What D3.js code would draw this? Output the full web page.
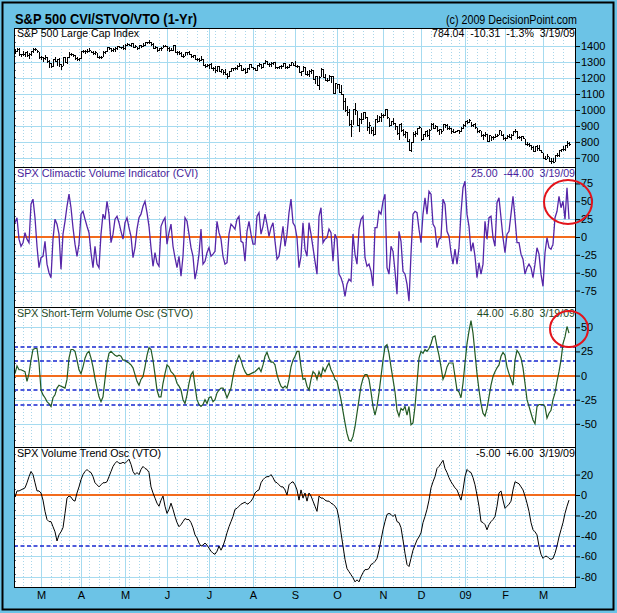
<!DOCTYPE html>
<html><head><meta charset="utf-8">
<script src="https://cdn.jsdelivr.net/npm/d3@7"></script>
<style>
body{margin:0;background:#fff}
svg{display:block}
text{font-family:"Liberation Sans",Arial,sans-serif;white-space:pre}
</style></head>
<body><svg id="c" width="617" height="613"></svg>
<script>
// ---------- DATA ----------
const startDate="2008-02-12", endDate="2009-03-19";
const holidays=["2008-02-18","2008-03-21","2008-05-26","2008-07-04","2008-09-01","2008-11-27","2008-12-25","2009-01-01","2009-01-19","2009-02-16"];
const monthLabels=["M","A","M","J","J","A","S","O","N","D","09","F","M"];

const spxClose=[1367,1382,1349,1350,1348,1360,1342,1353,1371,1381,1380,1367,1331,
1331,1326,1333,1304,1294,1273,1321,1308,1316,1289,1277,1330,1299,1330,1349,1352,1342,1325,1316,1323,
1371,1368,1370,1370,1373,1365,1355,1361,1333,1329,1334,1365,1366,1391,1388,1376,1380,1389,1398,1396,1391,1386,
1409,1414,1407,1419,1393,1398,1389,1404,1403,1408,1423,1425,1427,1414,1390,1394,1375,1385,1390,1398,1400,
1385,1378,1377,1405,1361,1361,1358,1335,1339,1360,1361,1351,1338,1342,1318,1318,1314,1321,1283,1278,1280,
1285,1262,1262,1253,1273,1245,1254,1240,1228,1215,1245,1260,1261,1261,1278,1282,1253,1257,1235,1264,1285,1267,
1261,1249,1284,1290,1267,1296,1305,1290,1286,1293,1298,1267,1266,1275,1277,1292,1266,1271,1281,1300,1283,
1277,1275,1236,1242,1267,1225,1228,1245,1252,1193,1214,1156,1207,1255,1208,1188,1186,1210,1213,1106,1166,
1161,1115,1099,1057,997,985,910,899,1004,998,908,946,941,985,956,896,909,877,848,941,930,954,969,
966,1006,953,905,931,920,898,853,912,873,851,859,807,752,800,852,858,887,896,
816,848,870,845,876,910,889,899,873,880,869,913,904,885,888,871,863,869,873,869,890,903,
932,927,935,907,910,891,871,872,843,844,851,806,841,828,832,837,846,874,845,826,
825,838,832,845,869,870,828,833,835,827,790,789,779,770,743,773,765,752,735,
700,696,713,683,683,677,720,721,751,757,753,778,794.35,784.04];
const spxHigh=[1382,1385,1385,1351,1367,1363,1367,1354,1372,1388,1388,1378,1364,
1335,1332,1344,1333,1310,1296,1321,1333,1322,1326,1287,1330,1331,1330,1360,1358,1352,1346,1334,1328,
1371,1378,1375,1381,1386,1372,1368,1367,1359,1336,1337,1367,1368,1395,1391,1389,1387,1397,1399,1402,1397,1404,
1410,1422,1415,1421,1419,1404,1395,1404,1407,1420,1424,1426,1440,1427,1418,1398,1394,1387,1392,1405,1406,
1400,1396,1386,1405,1404,1370,1366,1361,1353,1361,1365,1370,1350,1347,1342,1323,1323,1336,1321,1289,1290,
1285,1292,1272,1274,1274,1277,1257,1253,1255,1234,1246,1262,1263,1267,1281,1291,1283,1263,1260,1264,1285,1285,
1270,1261,1284,1292,1290,1297,1313,1304,1294,1300,1301,1300,1268,1277,1279,1294,1292,1276,1287,1300,1297,
1304,1280,1274,1243,1275,1268,1241,1249,1255,1250,1214,1214,1211,1265,1255,1227,1197,1221,1215,1210,1170,
1165,1162,1154,1097,1072,1022,1006,936,1006,1045,995,948,984,985,985,955,923,896,896,941,970,964,984,
975,1007,1005,952,934,951,920,897,913,916,881,866,864,820,801,865,868,887,897,
889,849,871,875,879,918,916,907,899,883,881,914,912,912,898,887,880,870,874,874,891,911,
934,936,943,927,911,918,890,877,871,851,864,850,841,838,838,852,850,877,868,851,
831,842,851,851,871,878,869,839,836,839,819,797,796,778,777,775,781,780,751,
729,712,725,708,700,699,720,730,752,758,774,778,803,797];
const spxLow=[1359,1367,1346,1338,1345,1337,1338,1327,1346,1364,1373,1362,1325,
1320,1304,1320,1303,1271,1272,1274,1307,1282,1276,1257,1283,1299,1295,1330,1341,1336,1322,1312,1312,
1323,1361,1359,1362,1369,1360,1348,1350,1331,1324,1324,1335,1358,1366,1380,1371,1372,1371,1383,1393,1386,1381,
1383,1406,1404,1398,1391,1391,1384,1385,1397,1403,1405,1418,1421,1406,1388,1388,1372,1373,1378,1391,1398,
1376,1370,1373,1377,1360,1351,1351,1335,1331,1341,1349,1350,1333,1329,1317,1313,1309,1314,1283,1272,1274,
1260,1261,1253,1240,1244,1244,1237,1225,1227,1200,1211,1245,1252,1256,1254,1276,1252,1251,1234,1235,1259,1266,
1254,1247,1250,1276,1264,1267,1292,1285,1275,1277,1290,1265,1262,1261,1262,1278,1264,1263,1270,1282,1282,
1273,1266,1236,1217,1244,1224,1221,1212,1233,1192,1170,1155,1133,1214,1207,1187,1180,1187,1178,1106,1107,
1140,1114,1098,1007,996,970,909,839,912,972,903,866,918,941,952,877,858,853,845,848,922,930,928,
958,971,952,899,907,911,882,852,818,870,846,830,806,747,741,801,834,847,886,
815,817,837,835,818,883,884,888,871,852,858,872,894,878,879,857,860,861,866,857,870,888,
899,919,927,902,897,889,864,862,836,818,838,804,804,815,816,828,836,847,844,821,
813,822,829,819,845,862,822,825,809,825,789,780,777,754,742,744,752,752,734,
699,696,697,678,667,673,683,713,714,743,751,749,766,780];

const cvi=[20,27,-3,-13,-8,6,-3,-8,46,53,
27,-13,-43,-29,-27,-6,-38,-50,-57,-3,
25,18,4,-45,4,22,43,60,41,13,
-10,-27,-10,32,36,25,15,6,-22,-43,
-13,-38,-43,4,32,25,50,32,-8,4,
25,29,20,8,-3,20,27,13,1,-29,
-15,11,27,32,43,50,34,15,-15,-41,
-22,-36,-41,15,22,27,-10,6,18,-13,
-29,-43,-27,-55,-27,27,22,4,-15,-27,
-59,-45,-24,11,-38,-34,-22,-15,-27,-24,
-20,22,6,-3,-27,-38,-36,4,18,15,
11,25,29,-6,-8,-34,8,22,4,-10,
-10,29,34,4,15,32,18,1,13,20,
-6,-31,-27,-6,15,-13,4,34,53,20,
15,-1,-43,-27,20,-17,-27,20,4,-15,
-34,-52,29,41,-8,-3,-1,11,6,-34,
4,-3,-52,-57,-66,-83,-66,-59,-62,4,
-24,-38,11,25,29,-29,-41,-38,-48,-69,
13,13,36,32,50,60,-43,-52,-13,-20,
-48,-80,8,-6,-48,-52,-66,-90,-24,32,
36,34,11,-8,32,55,32,64,60,18,
13,-15,-3,-1,53,46,8,1,-22,-38,
-17,-38,-15,34,69,78,32,15,-20,-8,
-27,-57,-36,-52,-38,22,-3,27,29,-1,
-13,48,55,27,-1,-22,4,8,32,57,
27,-8,-8,-24,-31,-52,-43,-38,-43,-57,
-38,-15,-24,-52,-69,-22,-1,-15,-17,-10,
27,36,57,41,50,25,69,25];

const stvo=[2,10,6,6,5,4,-6,2,16,27,
28,28,13,-15,-20,-23,-27,-29,-32,-23,
-20,-13,-10,-11,-12,-13,-4,18,27,27,
25,16,6,2,9,18,23,25,18,9,
-3,-13,-22,-27,-22,-4,13,23,25,23,
21,20,21,20,16,16,14,13,11,8,
1,-6,-10,-4,-1,9,21,29,27,16,
1,-15,-22,-22,-8,2,11,9,4,2,
-1,-8,-11,-15,-25,-29,-20,-8,1,4,
-11,-25,-30,-32,-30,-25,-29,-23,-22,-27,
-25,-18,-15,-13,-13,-17,-23,-18,-13,-1,
9,16,21,16,9,4,1,1,2,3,
4,6,8,4,11,20,24,18,14,14,
11,1,-6,-11,-13,-11,-13,-4,9,16,
20,25,25,9,-4,-3,-11,-15,-4,4,
2,-4,4,-1,8,4,9,13,6,2,
-4,-6,-15,-25,-37,-49,-60,-67,-68,-63,
-53,-39,-25,-11,-3,1,1,-4,-17,-32,
-41,-32,-18,-1,16,30,32,23,9,-4,
-17,-36,-42,-34,-36,-32,-41,-32,-51,-49,
-32,-8,18,25,23,27,25,28,33,40,
41,30,21,9,-4,1,9,13,13,13,
-1,-15,-17,-23,-8,13,33,46,57,44,
23,2,-15,-29,-39,-42,-34,-22,-10,-1,
4,8,11,20,24,21,9,2,-4,-10,
16,26,23,18,8,-8,-25,-32,-39,-46,
-50,-32,-30,-30,-30,-32,-44,-39,-36,-25,
-18,-6,4,16,33,40,50.8,44];

const vto=[-2,4,4,5,6,7,12,18,23,20,
12,4,4,2,-5,-16,-24,-26,-26,-31,
-36,-45,-39,-36,-32,-18,-3,-1,-2,-5,
-6,2,8,15,20,23,25,23,22,18,
12,10,8,10,12,12,13,18,23,28,
31,33,31,31,32,31,33,35,30,23,
20,22,20,25,28,26,25,22,8,2,
-3,-8,-11,-5,-1,-11,-18,-14,-8,-14,
-21,-27,-31,-29,-26,-23,-24,-24,-27,-32,
-39,-42,-47,-50,-49,-47,-49,-52,-55,-57,
-58,-55,-50,-54,-50,-44,-37,-31,-26,-21,
-14,-13,-11,-9,-8,-7,-9,-8,-6,-3,
2,4,5,12,15,17,18,18,20,17,
13,12,10,8,8,5,0,10,12,13,
10,5,-5,5,-3,2,-6,2,-1,-6,
-11,-16,-1,-3,-3,-5,-6,-6,-8,-9,
-11,-14,-23,-37,-50,-63,-72,-75,-78,-81,
-85,-83,-85,-80,-76,-73,-73,-72,-68,-67,
-65,-62,-54,-44,-34,-26,-19,-18,-19,-21,
-19,-26,-27,-32,-44,-57,-68,-70,-62,-54,
-49,-44,-41,-37,-27,-21,-14,-5,7,13,
18,26,28,31,34,26,22,17,13,10,
7,5,0,-5,5,18,25,23,22,17,
10,0,-11,-26,-27,-29,-34,-29,-26,-24,
-21,-11,2,4,-5,-13,-11,-9,-6,5,
13,12,11,8,5,-1,-8,-16,-27,-34,
-36,-39,-50,-58,-62,-60,-60,-62,-63,-62,
-57,-50,-41,-34,-27,-18,-11,-5];

const spxTicks=[700,800,900,1000,1100,1200,1300,1400];
const cviTicks=[-75,-50,-25,0,25,50,75];
const stvoTicks=[-50,-25,0,25,50];
const vtoTicks=[-80,-60,-40,-20,0,20];
const stvoBands=[-30,-15,15,30];
const vtoBands=[-50];

// ---------- LAYOUT ----------
const svg=d3.select("#c");
const L=14,R=576,T=28,B=588;
const BLUE="#6cc3e6",GRID="#a6dbf0",DOT="#a9d6ea";
const parse=d3.timeParse("%Y-%m-%d"),fmt=d3.timeFormat("%Y-%m-%d");
const hol=new Set(holidays);
const dates=d3.timeDay.range(parse(startDate),d3.timeDay.offset(parse(endDate),1))
  .filter(d=>d.getDay()%6!==0&&!hol.has(fmt(d)));

const x=d3.scaleLinear().domain([-0.5,280.5]).range([L,R]);
const px=i=>Math.round(x(i))+0.5;

svg.append("rect").attr("width",617).attr("height",613).attr("fill",BLUE);
svg.append("rect").attr("x",2.5).attr("y",2.5).attr("width",611).attr("height",607)
  .attr("fill","none").attr("stroke","#000").attr("stroke-width",2);
svg.append("rect").attr("x",L).attr("y",T).attr("width",R-L).attr("height",B-T).attr("fill","#fff");

const panels=[
 {top:28,bot:167,dom:[643,1513],ticks:spxTicks},
 {top:167,bot:307,dom:[-98,98],ticks:cviTicks},
 {top:307,bot:447,dom:[-74,71],ticks:stvoTicks},
 {top:447,bot:588,dom:[-91,47],ticks:vtoTicks}
];
panels.forEach(p=>{p.y=d3.scaleLinear().domain(p.dom).range([p.bot,p.top]);});

const monthIdx=[],weekIdx=[];
for(let i=1;i<dates.length;i++){
  if(dates[i].getMonth()!==dates[i-1].getMonth()) monthIdx.push(i);
  else if(+d3.timeMonday.floor(dates[i])!==+d3.timeMonday.floor(dates[i-1])) weekIdx.push(i);
}

const g=svg.append("g");
panels.forEach(p=>{
  const gg=g.append("g").attr("shape-rendering","crispEdges");
  gg.selectAll(".w").data(weekIdx).join("line")
    .attr("x1",px).attr("x2",px).attr("y1",p.top).attr("y2",p.bot)
    .attr("stroke",DOT).attr("stroke-dasharray","1,2");
  gg.selectAll(".m").data(monthIdx).join("line")
    .attr("x1",px).attr("x2",px).attr("y1",p.top).attr("y2",p.bot)
    .attr("stroke",GRID);
  gg.selectAll(".h").data(p.ticks).join("line")
    .attr("x1",L).attr("x2",R).attr("y1",d=>Math.round(p.y(d))+0.5).attr("y2",d=>Math.round(p.y(d))+0.5)
    .attr("stroke",GRID);
  // small inner ticks along left edge
  gg.selectAll(".lt").data(d3.range(1,20)).join("line")
    .attr("x1",L).attr("x2",L+2)
    .attr("y1",k=>Math.round(p.top+(p.bot-p.top)*k/20)+0.5).attr("y2",k=>Math.round(p.top+(p.bot-p.top)*k/20)+0.5)
    .attr("stroke","#5a6a80");
  // right axis
  const ax=d3.axisRight(p.y).tickValues(p.ticks).tickSize(4).tickPadding(1)
    .tickFormat(d=>String(d));
  const a=svg.append("g").attr("transform",`translate(${R},0)`).call(ax);
  a.select(".domain").remove();
  a.selectAll("line").attr("stroke","#000");
  a.selectAll("text").attr("font-size",11).attr("fill","#000")
    .attr("font-family",'"Liberation Sans",Arial,sans-serif');
});

// reference lines
function hline(p,v,color,dash,w){
  const yy=Math.round(p.y(v));
  g.append("line").attr("x1",L).attr("x2",R)
   .attr("y1",yy).attr("y2",yy)
   .attr("stroke",color).attr("stroke-width",w).attr("stroke-dasharray",dash);
}
hline(panels[1],0,"#f26b1d",null,2);
stvoBands.forEach(v=>hline(panels[2],v,"#1626d0","4,2.5",1.6));
hline(panels[2],0,"#f26b1d",null,2);
vtoBands.forEach(v=>hline(panels[3],v,"#1626d0","4,2.5",1.6));
hline(panels[3],0,"#f26b1d",null,2);

// SPX bars
const p0=panels[0];
const bars=g.append("g").attr("shape-rendering","crispEdges").attr("stroke","#000");
bars.selectAll(".b").data(spxClose).join("line")
  .attr("x1",(d,i)=>px(i)).attr("x2",(d,i)=>px(i))
  .attr("y1",(d,i)=>p0.y(spxHigh[i])).attr("y2",(d,i)=>p0.y(spxLow[i])+1);
bars.selectAll(".c").data(spxClose).join("line")
  .attr("x1",(d,i)=>px(i)).attr("x2",(d,i)=>px(i)+1.5)
  .attr("y1",d=>Math.round(p0.y(d))+0.5).attr("y2",d=>Math.round(p0.y(d))+0.5);

// oscillator lines
function series(p,data,color,w){
  g.append("path").datum(data)
   .attr("d",d3.line().x((d,i)=>x(i)).y(d=>p.y(d)))
   .attr("fill","none").attr("stroke",color).attr("stroke-width",w).attr("stroke-linejoin","miter");
}
series(panels[1],cvi,"#5626a8",1.3);
series(panels[2],stvo,"#235a23",1.2);
series(panels[3],vto,"#000",1);

// frame and separators
const fr=svg.append("g").attr("shape-rendering","crispEdges");
fr.append("rect").attr("x",L+0.5).attr("y",T+0.5).attr("width",R-L-1).attr("height",B-T-1)
  .attr("fill","none").attr("stroke","#000");
[167,307,447].forEach(v=>fr.append("line").attr("x1",L).attr("x2",R).attr("y1",v+0.5).attr("y2",v+0.5).attr("stroke","#000"));

// texts
function txt(s,xx,yy,opt){
  const t=svg.append("text").attr("x",xx).attr("y",yy).text(s)
   .attr("font-size",opt.size||11).attr("fill",opt.color||"#000")
   .attr("font-weight",opt.bold?"bold":"normal")
   .attr("text-anchor",opt.anchor||"start");
  if(opt.len) t.attr("textLength",opt.len).attr("lengthAdjust","spacingAndGlyphs");
  return t;
}
txt("S&P 500 CVI/STVO/VTO (1-Yr)",15,24,{size:14,bold:true,len:182});
txt("(c) 2009 DecisionPoint.com",577,24,{size:12,anchor:"end",len:131});

txt("S&P 500 Large Cap Index",17,37,{size:11,len:122});
txt("784.04  -10.31  -1.3%  3/19/09",575,37,{size:11,anchor:"end",len:143});
txt("SPX Climactic Volume Indicator (CVI)",17,177,{size:11,color:"#4a1f9c",len:181});
txt("25.00  -44.00  3/19/09",575,177,{size:11,color:"#4a1f9c",anchor:"end",len:104});
txt("SPX Short-Term Volume Osc (STVO)",17,317,{size:11,color:"#1f4a1f",len:176});
txt("44.00  -6.80  3/19/09",575,317,{size:11,color:"#1f4a1f",anchor:"end",len:98});
txt("SPX Volume Trend Osc (VTO)",17,457,{size:11,len:144});
txt("-5.00  +6.00  3/19/09",575,457,{size:11,anchor:"end",len:99});

// x axis labels
svg.selectAll(".ml").data(monthIdx).join("text")
  .attr("x",i=>px(i)).attr("y",599).attr("text-anchor","middle")
  .attr("font-size",11).text((d,k)=>monthLabels[k]);

// red annotation circles
svg.append("ellipse").attr("cx",568).attr("cy",202).attr("rx",24).attr("ry",22)
  .attr("fill","none").attr("stroke","#e3141b").attr("stroke-width",2);
svg.append("ellipse").attr("cx",569).attr("cy",329).attr("rx",19).attr("ry",18)
  .attr("fill","none").attr("stroke","#e3141b").attr("stroke-width",2);
</script></body></html>
